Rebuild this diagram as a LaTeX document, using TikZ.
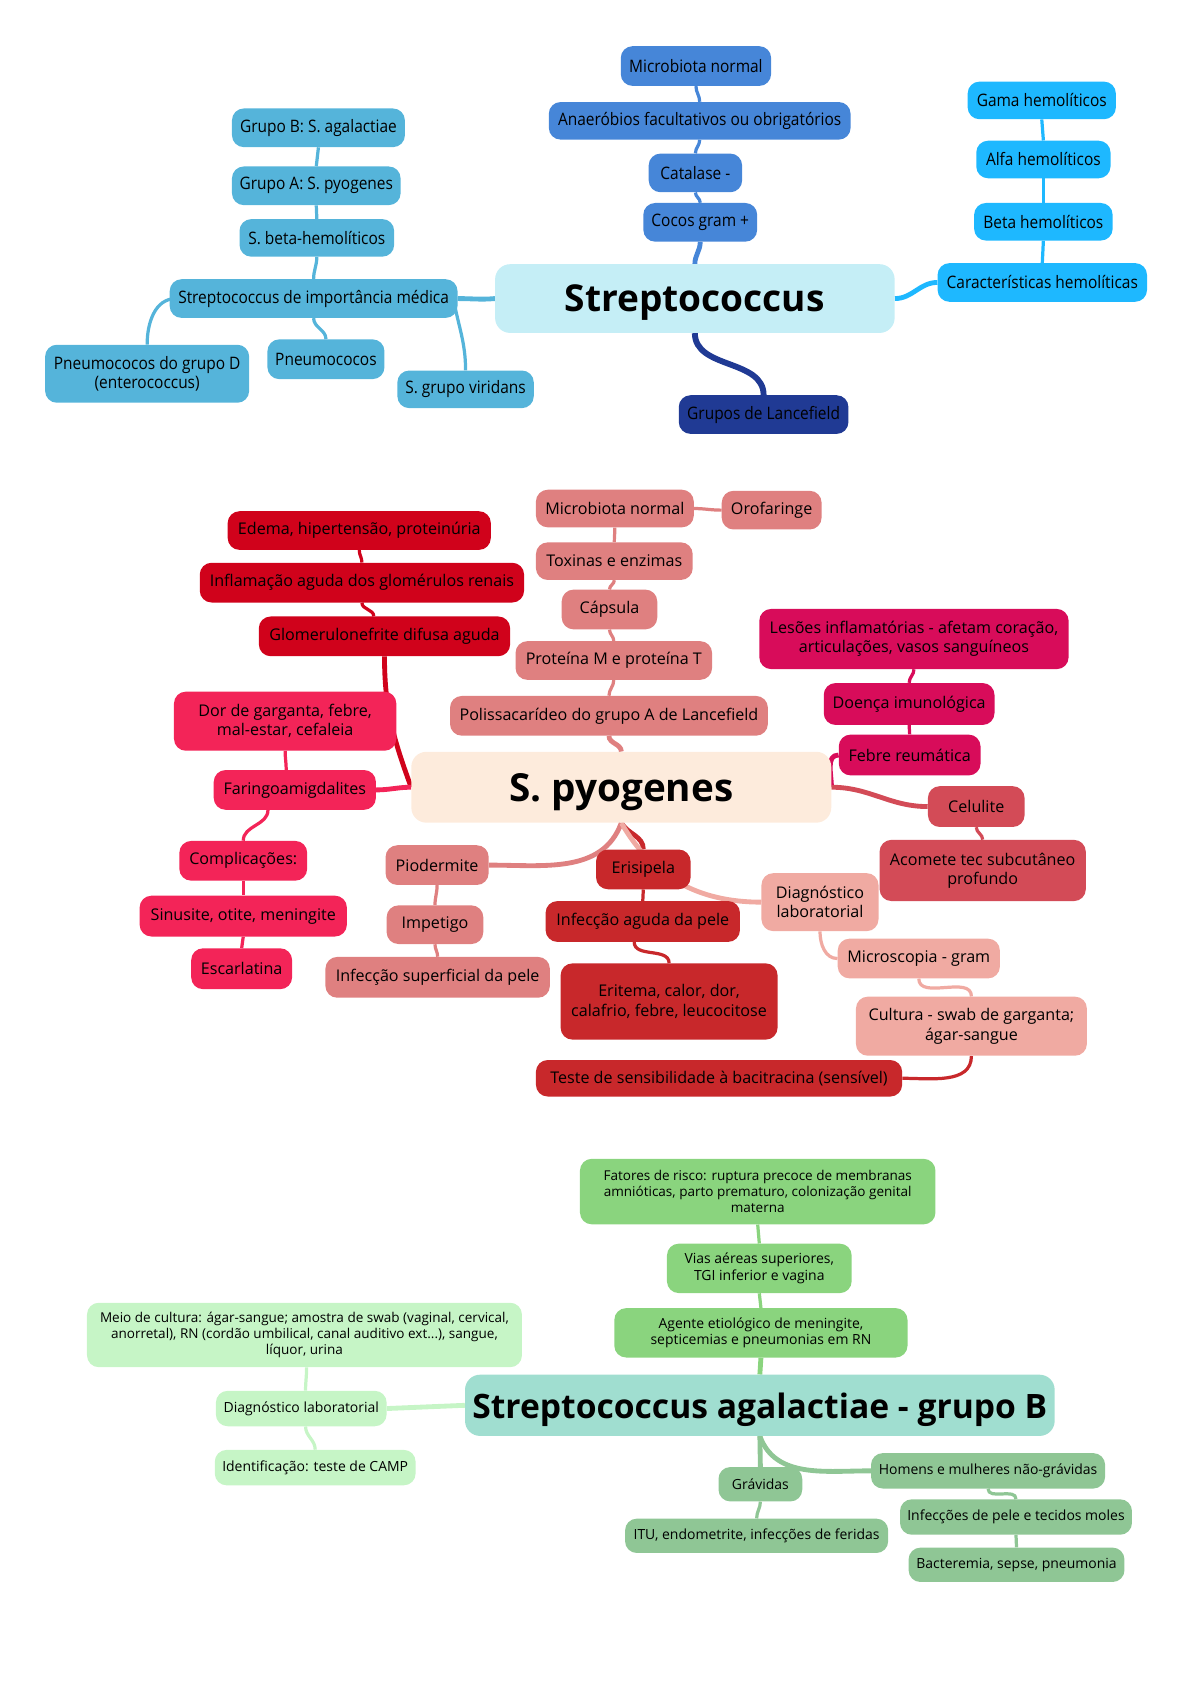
\documentclass[tikz,border=0pt]{standalone}
\usepackage{fontspec}
\setmainfont{Open Sans}
\newfontfamily\narrowfont[FakeStretch=0.9]{Open Sans}
\usetikzlibrary{backgrounds}
\definecolor{rootcyan}{RGB}{197,238,246}
\definecolor{midblue}{RGB}{70,134,216}
\definecolor{navy}{RGB}{32,58,148}
\definecolor{brightblue}{RGB}{30,184,255}
\definecolor{skyb}{RGB}{85,180,218}
\definecolor{rootpeach}{RGB}{253,235,220}
\definecolor{salmon}{RGB}{223,128,128}
\definecolor{crimson}{RGB}{208,2,27}
\definecolor{pinkred}{RGB}{243,36,88}
\definecolor{magenta}{RGB}{216,12,90}
\definecolor{rose}{RGB}{211,75,87}
\definecolor{darkred}{RGB}{200,40,43}
\definecolor{lightsalmon}{RGB}{240,170,162}
\definecolor{rootteal}{RGB}{160,222,208}
\definecolor{leaf}{RGB}{138,212,126}
\definecolor{paleleaf}{RGB}{198,245,198}
\definecolor{sage}{RGB}{143,198,149}
\newcommand\bigtitle[1]{\bfseries\fontsize{#1}{#1}\selectfont}

\begin{document}
\begin{tikzpicture}[x=1pt,y=-1pt,
	box/.style={rounded corners=11pt, inner sep=0pt, align=center, text=black, font=\fontsize{15}{18}\selectfont},
	tbox/.style={box, font=\narrowfont\fontsize{16}{18}\selectfont},
	sbox/.style={box, font=\fontsize{13}{15.5}\selectfont},
	root/.style={box, rounded corners=14pt, text depth=0pt},
	sz/.style 2 args={minimum width=#1pt, minimum height=#2pt},
	link/.style={draw=#1, line width=3pt},
	trunk/.style={draw=#1, line width=4.5pt}]
	\useasboundingbox (0,0) rectangle (1109,1568);

	% Streptococcus
	\node[root, fill=rootcyan, sz={372}{64}, font=\bigtitle{34.5}] (strep) at (647,278) {Streptococcus};
	\node[tbox, fill=midblue, sz={140}{37}] (mbn1) at (648,61.5) {Microbiota normal};
	\node[tbox, fill=midblue, sz={281}{35}] (anae) at (651.5,112.5) {Anaeróbios facultativos ou obrigatórios};
	\node[tbox, fill=midblue, sz={87}{36}] (cat) at (647.5,161) {Catalase -};
	\node[tbox, fill=midblue, sz={106}{36}] (cocos) at (652,207) {Cocos gram +};
	\node[tbox, fill=navy, sz={158}{36}] (lance) at (711,386) {Grupos de Lancefield};
	\node[tbox, fill=brightblue, sz={138}{35}] (gama) at (970,93.5) {Gama hemolíticos};
	\node[tbox, fill=brightblue, sz={125}{35}] (alfa) at (971.5,148.5) {Alfa hemolíticos};
	\node[tbox, fill=brightblue, sz={129}{35}] (beta) at (971.5,206.5) {Beta hemolíticos};
	\node[tbox, fill=brightblue, sz={195}{36}] (carac) at (970.5,263) {Características hemolíticas};
	\node[tbox, fill=skyb, sz={161}{36}] (grpB) at (296.5,119) {Grupo B: S. agalactiae};
	\node[tbox, fill=skyb, sz={157}{36}] (grpA) at (294.5,173) {Grupo A: S. pyogenes};
	\node[tbox, fill=skyb, sz={144}{35}] (sbeta) at (295,221.5) {S. beta-hemolíticos};
	\node[tbox, fill=skyb, sz={268}{36}] (simp) at (292,278) {Streptococcus de importância médica};
	\node[tbox, fill=skyb, sz={190}{54}] (pgd) at (137,348) {Pneumococos do grupo D\\(enterococcus)};
	\node[tbox, fill=skyb, sz={109}{37}] (pneu) at (303.5,334.5) {Pneumococos};
	\node[tbox, fill=skyb, sz={127}{35}] (viri) at (433.5,362.5) {S. grupo viridans};

	\begin{scope}[on background layer]
	\draw[trunk=skyb] (strep.west) to[out=185,in=0] (simp.east);
	\draw[link=skyb] (simp.north) to[out=90,in=-90] (sbeta.south);
	\draw[link=skyb] (sbeta.north) -- (grpA.south);
	\draw[link=skyb] (grpA.north) -- (grpB.south);
	\draw[link=skyb] ([xshift=6pt]simp.west) to[out=180,in=90] (pgd.north);
	\draw[link=skyb] (simp.south) to[out=-90,in=90] (pneu.north);
	\draw[link=skyb] ([xshift=-4pt]simp.east) to[out=-80,in=90] (viri.north);
	\draw[trunk=midblue] (strep.north) to[out=90,in=-90] (cocos.south);
	\draw[link=midblue] (cocos.north) to[out=90,in=-90] (cat.south);
	\draw[link=midblue] (cat.north) to[out=90,in=-90] (anae.south);
	\draw[link=midblue] (anae.north) to[out=90,in=-90] (mbn1.south);
	\draw[trunk=brightblue] (strep.east) to[out=0,in=180] (carac.west);
	\draw[link=brightblue] (carac.north) -- (beta.south);
	\draw[link=brightblue] (beta.north) -- (alfa.south);
	\draw[link=brightblue] (alfa.north) -- (gama.south);
	\draw[trunk=navy, line width=5.5pt] (strep.south) to[out=-90,in=90] (lance.north);
	\end{scope}

	% S. pyogenes
	\node[root, fill=rootpeach, sz={391}{66}, font=\bigtitle{36}] (pyo) at (578.5,733) {S. pyogenes};
	\node[box, fill=salmon, sz={147}{35}] (mbn2) at (572.5,473.5) {Microbiota normal};
	\node[box, fill=salmon, sz={93}{36}] (orof) at (718.5,475) {Orofaringe};
	\node[box, fill=salmon, sz={146}{35}] (toxi) at (572,522.5) {Toxinas e enzimas};
	\node[box, fill=salmon, sz={89}{37}] (caps) at (567.5,567.5) {Cápsula};
	\node[box, fill=salmon, sz={183}{36}] (prot) at (571.5,615) {Proteína M e proteína T};
	\node[box, fill=salmon, sz={296}{37}] (poli) at (567,666.5) {Polissacarídeo do grupo A de Lancefield};
	\node[box, fill=crimson, sz={245}{36}] (edema) at (334.5,494) {Edema, hipertensão, proteinúria};
	\node[box, fill=crimson, sz={302}{37}] (infl) at (337,542.5) {Inflamação aguda dos glomérulos renais};
	\node[box, fill=crimson, sz={234}{37}] (glom) at (358,592.5) {Glomerulonefrite difusa aguda};
	\node[box, fill=pinkred, sz={207}{55}] (dor) at (265.5,671.5) {Dor de garganta, febre,\\mal-estar, cefaleia};
	\node[box, fill=pinkred, sz={151}{37}] (farin) at (274.5,735.5) {Faringoamigdalites};
	\node[box, fill=pinkred, sz={119}{37}] (compl) at (226.5,801.5) {Complicações:};
	\node[box, fill=pinkred, sz={193}{38}] (sinus) at (226.5,853) {Sinusite, otite, meningite};
	\node[box, fill=pinkred, sz={94}{38}] (escar) at (225,902) {Escarlatina};
	\node[box, fill=magenta, sz={288}{56}] (lesoes) at (851,595) {Lesões inflamatórias - afetam coração,\\articulações, vasos sanguíneos};
	\node[box, fill=magenta, sz={159}{39}] (doenca) at (846.5,655.5) {Doença imunológica};
	\node[box, fill=magenta, sz={132}{38}] (febre) at (847,703) {Febre reumática};
	\node[box, fill=rose, sz={90}{38}] (celul) at (909,751) {Celulite};
	\node[box, fill=rose, sz={192}{57}] (acom) at (915,810.5) {Acomete tec subcutâneo\\profundo};
	\node[box, fill=salmon, sz={96}{37}] (piod) at (407,805.5) {Piodermite};
	\node[box, fill=salmon, sz={90}{36}] (impet) at (405,861) {Impetigo};
	\node[box, fill=salmon, sz={209}{38}] (isup) at (407.5,910) {Infecção superficial da pele};
	\node[box, fill=darkred, sz={88}{37}] (eris) at (599,809.5) {Erisipela};
	\node[box, fill=darkred, sz={181}{38}] (iagud) at (598.5,858) {Infecção aguda da pele};
	\node[box, fill=darkred, sz={202}{71}] (erit) at (623,932.5) {Eritema, calor, dor,\\calafrio, febre, leucocitose};
	\node[box, fill=darkred, sz={341}{34}] (teste) at (669.5,1004) {Teste de sensibilidade à bacitracina (sensível)};
	\node[box, fill=lightsalmon, sz={109}{54}] (diag) at (763.5,840) {Diagnóstico\\laboratorial};
	\node[box, fill=lightsalmon, sz={151}{37}] (micro) at (855.5,892.5) {Microscopia - gram};
	\node[box, fill=lightsalmon, sz={215}{55}] (cult) at (904.5,955.5) {Cultura - swab de garganta;\\ágar-sangue};

	\begin{scope}[on background layer]
	\draw[trunk=salmon] (pyo.north) to[out=90,in=-90] (poli.south);
	\draw[link=salmon] (poli.north) to[out=90,in=-90] (prot.south);
	\draw[link=salmon] (prot.north) to[out=90,in=-90] (caps.south);
	\draw[link=salmon] (caps.north) to[out=90,in=-90] (toxi.south);
	\draw[link=salmon] (toxi.north) to[out=90,in=-90] (mbn2.south);
	\draw[link=salmon] (mbn2.east) to[out=0,in=180] (orof.west);
	\draw[trunk=crimson] (pyo.west) to[out=110,in=-90] (glom.south);
	\draw[link=crimson] ([xshift=-10pt]glom.north) to[out=90,in=-90] (infl.south);
	\draw[link=crimson] (infl.north) to[out=90,in=-90] (edema.south);
	\draw[trunk=pinkred] (pyo.west) to[out=180,in=0] (farin.east);
	\draw[link=pinkred] ([xshift=-8pt]farin.north) to[out=90,in=-90] (dor.south);
	\draw[link=pinkred] ([xshift=-25pt]farin.south) to[out=-90,in=90] (compl.north);
	\draw[link=pinkred] (compl.south) -- (sinus.north);
	\draw[link=pinkred] (sinus.south) -- (escar.north);
	\draw[trunk=magenta] (pyo.east) to[out=90,in=180] (febre.west);
	\draw[link=magenta] (febre.north) to[out=90,in=-90] (doenca.south);
	\draw[link=magenta] (doenca.north) to[out=90,in=-90] (lesoes.south);
	\draw[trunk=rose] (pyo.east) to[out=0,in=180] (celul.west);
	\draw[link=rose] (celul.south) to[out=-90,in=90] (acom.north);
	\draw[trunk=salmon] (pyo.south) to[out=-110,in=0] (piod.east);
	\draw[link=salmon] (piod.south) to[out=-90,in=90] (impet.north);
	\draw[link=salmon] (impet.south) to[out=-90,in=90] (isup.north);
	\draw[trunk=darkred] (pyo.south) to[out=-60,in=90] (eris.north);
	\draw[link=darkred] (eris.south) -- (iagud.north);
	\draw[link=darkred] ([xshift=-8pt]iagud.south) to[out=-90,in=90] (erit.north);
	\draw[trunk=lightsalmon] (pyo.south) to[out=-60,in=180] (diag.west);
	\draw[link=lightsalmon] (diag.south) to[out=-90,in=180] (micro.west);
	\draw[link=lightsalmon] (micro.south) to[out=-90,in=90] (cult.north);
	\draw[link=darkred] (cult.south) to[out=-90,in=0] (teste.east);
	\end{scope}

	% Streptococcus agalactiae
	\node[root, fill=rootteal, sz={549}{57}, font=\bigtitle{31.3}] (agal) at (707.5,1308.5) {Streptococcus agalactiae - grupo B};
	\node[sbox, fill=leaf, sz={331}{61}, font=\fontsize{12.6}{15}\selectfont] (fator) at (705.5,1109.5) {Fatores de risco: ruptura precoce de membranas\\amnióticas, parto prematuro, colonização genital\\materna};
	\node[sbox, fill=leaf, sz={172}{46}] (vias) at (707,1181) {Vias aéreas superiores,\\TGI inferior e vagina};
	\node[sbox, fill=leaf, sz={273}{46}] (agent) at (708.5,1241) {Agente etiológico de meningite,\\septicemias e pneumonias em RN};
	\node[sbox, fill=paleleaf, sz={405}{60}, font=\fontsize{12.6}{15}\selectfont] (meio) at (283.5,1243) {Meio de cultura: ágar-sangue; amostra de swab (vaginal, cervical,\\anorretal), RN (cordão umbilical, canal auditivo ext...), sangue,\\líquor, urina};
	\node[sbox, fill=paleleaf, sz={159}{33}] (diag3) at (280.5,1311.5) {Diagnóstico laboratorial};
	\node[sbox, fill=paleleaf, sz={187}{33}] (ident) at (293.5,1366.5) {Identificação: teste de CAMP};
	\node[sbox, fill=sage, sz={78}{32}] (grav) at (708,1382) {Grávidas};
	\node[sbox, fill=sage, sz={245}{32}] (itu) at (704.5,1430) {ITU, endometrite, infecções de feridas};
	\node[sbox, fill=sage, sz={218}{33}] (homens) at (920,1369.5) {Homens e mulheres não-grávidas};
	\node[sbox, fill=sage, sz={216}{33}] (ipele) at (946,1412.5) {Infecções de pele e tecidos moles};
	\node[sbox, fill=sage, sz={201}{32}] (bact) at (946.5,1457) {Bacteremia, sepse, pneumonia};

	\begin{scope}[on background layer]
	\draw[trunk=leaf] (agal.north) -- (agent.south);
	\draw[link=leaf] (agent.north) -- (vias.south);
	\draw[link=leaf] (vias.north) -- (fator.south);
	\draw[trunk=paleleaf] (agal.west) -- (diag3.east);
	\draw[link=paleleaf] ([xshift=4pt]diag3.north) to[out=90,in=-90] ([xshift=2pt]meio.south);
	\draw[link=paleleaf] ([xshift=4pt]diag3.south) to[out=-90,in=90] (ident.north);
	\draw[trunk=sage] (agal.south) -- (grav.north);
	\draw[link=sage] (grav.south) to[out=-90,in=90] (itu.north);
	\draw[trunk=sage] (agal.south) to[out=-70,in=180] (homens.west);
	\draw[link=sage] (homens.south) to[out=-90,in=90] (ipele.north);
	\draw[link=sage] (ipele.south) -- (bact.north);
	\end{scope}
\end{tikzpicture}
\end{document}
